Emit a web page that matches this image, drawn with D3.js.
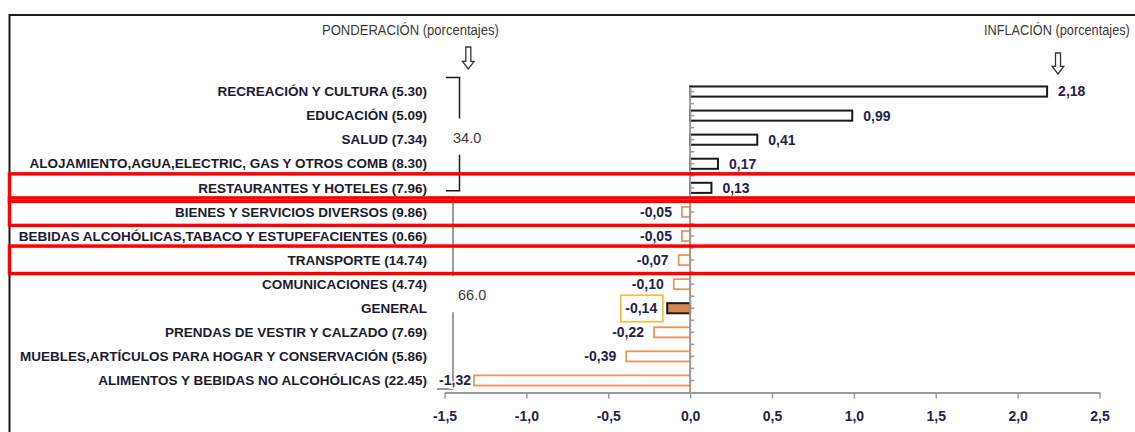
<!DOCTYPE html>
<html>
<head>
<meta charset="utf-8">
<script src="https://cdn.jsdelivr.net/npm/d3@7"></script>
<style>
  html, body { margin: 0; padding: 0; background: #fff; }
  svg { display: block; }
</style>
</head>
<body>
<svg id="chart" width="1135" height="432"></svg>
<script>
// Divisiones del IPC, ordenadas por inflación
const categories = [
  "RECREACIÓN Y CULTURA",
  "EDUCACIÓN",
  "SALUD",
  "ALOJAMIENTO,AGUA,ELECTRIC, GAS Y OTROS COMB",
  "RESTAURANTES Y HOTELES",
  "BIENES Y SERVICIOS DIVERSOS",
  "BEBIDAS ALCOHÓLICAS,TABACO Y ESTUPEFACIENTES",
  "TRANSPORTE",
  "COMUNICACIONES",
  "GENERAL",
  "PRENDAS DE VESTIR Y CALZADO",
  "MUEBLES,ARTÍCULOS PARA HOGAR Y CONSERVACIÓN",
  "ALIMENTOS Y BEBIDAS NO ALCOHÓLICAS"
];
// Ponderación (porcentajes); el índice general no lleva ponderación
const weights = [5.30, 5.09, 7.34, 8.30, 7.96, 9.86, 0.66, 14.74, 4.74, null, 7.69, 5.86, 22.45];
// Inflación (porcentajes)
const inflation = [2.18, 0.99, 0.41, 0.17, 0.13, -0.05, -0.05, -0.07, -0.10, -0.14, -0.22, -0.39, -1.32];
const xTickValues = [-1.5, -1.0, -0.5, 0.0, 0.5, 1.0, 1.5, 2.0, 2.5];
const highlighted = ["RESTAURANTES Y HOTELES", "BIENES Y SERVICIOS DIVERSOS", "TRANSPORTE"];
const totalCategory = "GENERAL";
// Grupos de ponderación: divisiones con inflación positiva y negativa
const upperGroup = categories.slice(0, 5);
const lowerGroup = categories.slice(5).filter(c => c !== totalCategory);

// Números con coma decimal y guion como signo menos
const esNum = s => s.replace(".", ",").replace("\u2212", "-");
const fmtValue = v => esNum(d3.format(".2f")(v));
const fmtTick = v => esNum(d3.format(".1f")(v));
const labelOf = (c, i) => weights[i] == null ? c : `${c} (${weights[i].toFixed(2)})`;

const svg = d3.select("#chart");
const FONT = "'Liberation Sans', Arial, sans-serif";
const NAVY = "#23234a";
const ORANGE = "#E8965E";
const DARK = "#1a1a1a";
const AXIS_GREY = "#9a9a9a";
const HEAD_GREY = "#3a3a3a";

const x = d3.scaleLinear().domain([-1.5, 2.5]).range([444.5, 1099.5]);
const y = d3.scaleBand().domain(categories).range([79.5, 392.5])
  .paddingInner(0.58).paddingOuter(0.29);
const cy = c => y(c) + y.bandwidth() / 2;
const x0 = x(0);
const axisY = y.range()[1];
const labelRight = 427;

// Marco exterior
svg.append("rect")
  .attr("x", 9.5).attr("y", 15).attr("width", 1200).attr("height", 500)
  .attr("fill", "none").attr("stroke", DARK).attr("stroke-width", 2);

// Encabezados en letra estrecha (escala horizontal sobre la fuente normal)
function narrowText(left, baseline, width, str) {
  const g = svg.append("g");
  const t = g.append("text")
    .attr("x", 0).attr("y", 0)
    .attr("font-family", FONT).attr("font-size", 15).attr("fill", HEAD_GREY)
    .text(str);
  const k = width / t.node().getComputedTextLength();
  g.attr("transform", `translate(${left},${baseline}) scale(${k},1)`);
}
narrowText(322, 35, 177, "PONDERACIÓN (porcentajes)");
narrowText(984, 35, 146, "INFLACIÓN (porcentajes)");

// Flechas huecas hacia abajo
function downArrow(cx, top, bottom) {
  const sw = 2.5, hw = 5.8, hh = 7.7, neck = bottom - hh;
  return `M${cx - sw},${top}L${cx + sw},${top}L${cx + sw},${neck}L${cx + hw},${neck}` +
         `L${cx},${bottom}L${cx - hw},${neck}L${cx - sw},${neck}Z`;
}
svg.append("path").attr("d", downArrow(468.3, 47, 69))
  .attr("fill", "#fff").attr("stroke", "#333").attr("stroke-width", 1.3);
svg.append("path").attr("d", downArrow(1058, 53, 74))
  .attr("fill", "#fff").attr("stroke", "#333").attr("stroke-width", 1.3);

// Barras
svg.append("g").selectAll("rect").data(categories).join("rect")
  .attr("x", (c, i) => x(Math.min(0, inflation[i])))
  .attr("width", (c, i) => Math.abs(x(inflation[i]) - x0))
  .attr("y", c => y(c))
  .attr("height", y.bandwidth())
  .attr("fill", c => c === totalCategory ? "#D4874E" : "#fff")
  .attr("stroke", (c, i) => c === totalCategory || inflation[i] >= 0 ? DARK : ORANGE)
  .attr("stroke-width", (c, i) => c === totalCategory || inflation[i] >= 0 ? 2 : 1.8);

// Eje vertical (cero) con marcas cada media banda
svg.append("line")
  .attr("x1", x0).attr("x2", x0).attr("y1", 87).attr("y2", axisY)
  .attr("stroke", AXIS_GREY).attr("stroke-width", 2);
const halfTicks = d3.range(0, categories.length * 2 + 1)
  .map(k => y.range()[0] + k * y.step() / 2)
  .filter(v => v >= 87 && v < axisY);
svg.append("g").selectAll("line").data(halfTicks).join("line")
  .attr("x1", x0).attr("x2", x0 + 4).attr("y1", d => d).attr("y2", d => d)
  .attr("stroke", AXIS_GREY).attr("stroke-width", 1.5);

// Eje horizontal
const xAxis = svg.append("g")
  .attr("transform", `translate(0,${axisY})`)
  .call(d3.axisBottom(x).tickValues(xTickValues).tickFormat(fmtTick)
    .tickSize(6).tickSizeOuter(0).tickPadding(13));
xAxis.select(".domain").attr("stroke", AXIS_GREY).attr("stroke-width", 2);
xAxis.selectAll(".tick line").attr("stroke", AXIS_GREY).attr("stroke-width", 1.5);
xAxis.selectAll(".tick text")
  .attr("font-family", FONT).attr("font-size", 14).attr("font-weight", "bold")
  .attr("fill", NAVY);

// Nombres de las divisiones
svg.append("g").selectAll("text").data(categories).join("text")
  .attr("x", labelRight).attr("y", c => cy(c)).attr("dy", "0.35em")
  .attr("text-anchor", "end")
  .attr("font-family", FONT).attr("font-size", 13.5).attr("font-weight", "bold")
  .attr("fill", "#1b1b30")
  .text((c, i) => labelOf(c, i));

// Etiquetas de valor
const valueLabels = svg.append("g").selectAll("text").data(categories).join("text")
  .attr("y", c => cy(c)).attr("dy", "0.35em")
  .attr("text-anchor", (c, i) => inflation[i] >= 0 ? "start" : "end")
  .attr("font-family", FONT).attr("font-size", 14).attr("font-weight", "bold")
  .attr("fill", NAVY)
  .attr("stroke", "#fff").attr("stroke-width", 3).attr("paint-order", "stroke")
  .text((c, i) => fmtValue(inflation[i]))
  .each(function (c, i) {
    const v = inflation[i];
    if (v >= 0) { d3.select(this).attr("x", x(v) + 11); return; }
    // a la izquierda del extremo de la barra, sin pisar el nombre de la división
    const w = this.getComputedTextLength();
    let end = x(v) - 10;
    if (end - w < labelRight + 10) end = x(v) - 3;
    d3.select(this).attr("x", end);
  });

// Recuadro dorado del índice general
valueLabels.filter(c => c === totalCategory).each(function () {
  const b = this.getBBox();
  d3.select(this.parentNode).insert("rect", ":first-child")
    .attr("x", b.x - 4.5).attr("y", cy(totalCategory) - 13)
    .attr("width", b.width + 10).attr("height", 26.5)
    .attr("fill", "#fff").attr("stroke", "#F5BE32").attr("stroke-width", 1.6);
});

// Llaves de agrupación de ponderaciones
const sumLabel = group => d3.sum(group, c => weights[categories.indexOf(c)]).toFixed(1);
const up0 = upperGroup[0], up4 = upperGroup[upperGroup.length - 1];
const upX = 459.5;
svg.append("path")
  .attr("d", `M446,${y(up0) - 9}L${upX},${y(up0) - 9}L${upX},${cy(upperGroup[1]) + 3}` +
             `M${upX},${cy(upperGroup[3]) - 9}L${upX},${cy(up4) + 3}L446,${cy(up4) + 3}`)
  .attr("fill", "none").attr("stroke", DARK).attr("stroke-width", 1.5);
svg.append("text")
  .attr("x", 453).attr("y", cy(upperGroup[2]) - 1.5).attr("dy", "0.35em")
  .attr("font-family", FONT).attr("font-size", 14.5).attr("fill", HEAD_GREY)
  .text(sumLabel(upperGroup));

const lo0 = lowerGroup[0], loN = lowerGroup[lowerGroup.length - 1];
const loX = 453;
const gapTop = y(totalCategory) - (y.step() - y.bandwidth()) / 2;
svg.insert("path", "g")
  .attr("d", `M439,${y(lo0) - 9.6}L${loX},${y(lo0) - 9.6}L${loX},${gapTop - 20}` +
             `M${loX},${cy(totalCategory) + 4}L${loX},${cy(loN) + 8.5}L437,${cy(loN) + 8.5}`)
  .attr("fill", "none").attr("stroke", "#7a7a7a").attr("stroke-width", 1.5);
svg.append("text")
  .attr("x", 458).attr("y", gapTop - 1).attr("dy", "0.35em")
  .attr("font-family", FONT).attr("font-size", 14.5).attr("fill", HEAD_GREY)
  .text(sumLabel(lowerGroup));

// Recuadros rojos de las divisiones destacadas
svg.append("g").selectAll("rect").data(highlighted).join("rect")
  .attr("x", 9.5).attr("y", c => cy(c) - 14).attr("width", 1200).attr("height", 27.5)
  .attr("fill", "none").attr("stroke", "#ff0000").attr("stroke-width", 3.5);
</script>
</body>
</html>
